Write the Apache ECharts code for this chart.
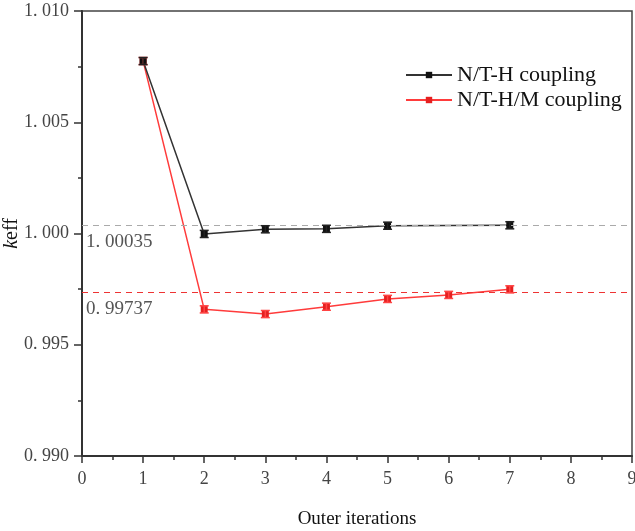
<!DOCTYPE html>
<html><head><meta charset="utf-8">
<script src="https://cdn.jsdelivr.net/npm/echarts@6/dist/echarts.min.js"></script>
<style>html,body{margin:0;padding:0;background:#fff}#c{width:635px;height:531px}</style>
</head><body><div id="c"></div>
<script>
var ntIters = [1, 2, 3, 4, 5, 7];
var ntKeff = [1.00775, 0.99998, 1.00019, 1.00021, 1.00035, 1.00037];
var ntmIters = [1, 2, 3, 4, 5, 6, 7];
var ntmKeff = [1.00775, 0.99659, 0.99638, 0.99671, 0.99706, 0.99724, 0.99749];
var errHalf = 0.00016;
var refNT = 1.00035, refNTM = 0.99737;
var seriesNames = ['N/T-H coupling', 'N/T-H/M coupling'];

var ntData = ntIters.map(function(x,i){return [x, ntKeff[i]];});
var ntmData = ntmIters.map(function(x,i){return [x, ntmKeff[i]];});

function errSeries(data, color, name){
  return {
    type:'custom', name:name, z:5,
    data:data.map(function(d){return [d[0], d[1]-errHalf, d[1]+errHalf];}),
    renderItem:function(params, api){
      var lo = api.coord([api.value(0), api.value(1)]);
      var hi = api.coord([api.value(0), api.value(2)]);
      var w = 4.5;
      var st = {stroke: color, lineWidth: 1.5};
      return {type:'group', children:[
        {type:'line', shape:{x1:lo[0],y1:lo[1],x2:hi[0],y2:hi[1]}, style:st},
        {type:'line', shape:{x1:lo[0]-w,y1:lo[1],x2:lo[0]+w,y2:lo[1]}, style:st},
        {type:'line', shape:{x1:hi[0]-w,y1:hi[1],x2:hi[0]+w,y2:hi[1]}, style:st}
      ]};
    },
    encode:{x:0, y:[1,2]}, silent:true
  };
}

function fmtGap(s){ return s.replace('.', '. '); }

var serif = '"Liberation Serif", "DejaVu Serif", serif';
var chart = echarts.init(document.getElementById('c'), null, {renderer:'canvas'});
chart.setOption({
  animation:false,
  backgroundColor:'#fff',
  grid:{left:82, right:3, top:11, bottom:75, show:true, borderColor:'#444', borderWidth:1.5,
    outerBoundsMode:'none', containLabel:false},
  legend:{
    orient:'vertical', left:400, top:59, itemWidth:46, itemHeight:8, itemGap:3,
    textStyle:{fontFamily:serif, fontSize:22, color:'#111'},
    data:[{name:seriesNames[0]},{name:seriesNames[1]}]
  },
  xAxis:{
    type:'value', min:0, max:9, interval:1,
    name:'Outer iterations', nameLocation:'middle', nameGap:54,
    nameTextStyle:{fontFamily:serif, fontSize:19, color:'#111'},
    axisLine:{show:true, lineStyle:{color:'#333', width:2}},
    axisTick:{show:true, length:7, lineStyle:{color:'#333', width:1.5}},
    minorTick:{show:true, splitNumber:2, length:4, lineStyle:{color:'#333', width:1.5}},
    axisLabel:{fontFamily:serif, fontSize:18, color:'#444', margin:14},
    splitLine:{show:false}
  },
  yAxis:{
    type:'value', min:0.990, max:1.010, interval:0.005,
    name:'{i|k}eff', nameLocation:'middle', nameGap:60, nameRotate:90, nameMoveOverlap:false,
    nameTextStyle:{fontFamily:serif, fontSize:20, color:'#111',
      rich:{i:{fontStyle:'italic', fontFamily:serif, fontSize:20}}},
    axisLine:{show:true, lineStyle:{color:'#333', width:2}},
    axisTick:{show:true, length:8, lineStyle:{color:'#333', width:1.5}},
    minorTick:{show:true, splitNumber:2, length:4, lineStyle:{color:'#333', width:1.5}},
    axisLabel:{fontFamily:serif, fontSize:18, color:'#444', margin:13,
      formatter:function(v){return fmtGap(v.toFixed(3));}},
    splitLine:{show:false}
  },
  series:[
    {
      name:seriesNames[0], type:'line', data:ntData, z:4,
      symbol:'rect', symbolSize:7, color:'#111',
      lineStyle:{color:'#333', width:1.5},
      itemStyle:{color:'#111'},
      markLine:{
        silent:true, symbol:'none', precision:5,
        lineStyle:{color:'#aaa', type:[6,5], width:1.2},
        label:{show:true, position:'insideStartBottom', formatter:fmtGap(refNT.toFixed(5)),
          fontFamily:serif, fontSize:19, color:'#555', distance:[4,7]},
        data:[{yAxis:refNT}]
      }
    },
    {
      name:seriesNames[1], type:'line', data:ntmData, z:3,
      symbol:'rect', symbolSize:7, color:'#ee2222',
      lineStyle:{color:'#ff3b3b', width:1.5},
      itemStyle:{color:'#e52020'},
      markLine:{
        silent:true, symbol:'none', precision:5,
        lineStyle:{color:'#ee3333', type:[6,5], width:1.2},
        label:{show:true, position:'insideStartBottom', formatter:fmtGap(refNTM.toFixed(5)),
          fontFamily:serif, fontSize:19, color:'#555', distance:[4,7]},
        data:[{yAxis:refNTM}]
      }
    },
    errSeries(ntmData, '#ff4444', 'errNTM'),
    errSeries(ntData, '#222', 'errNT')
  ]
});
</script></body></html>
